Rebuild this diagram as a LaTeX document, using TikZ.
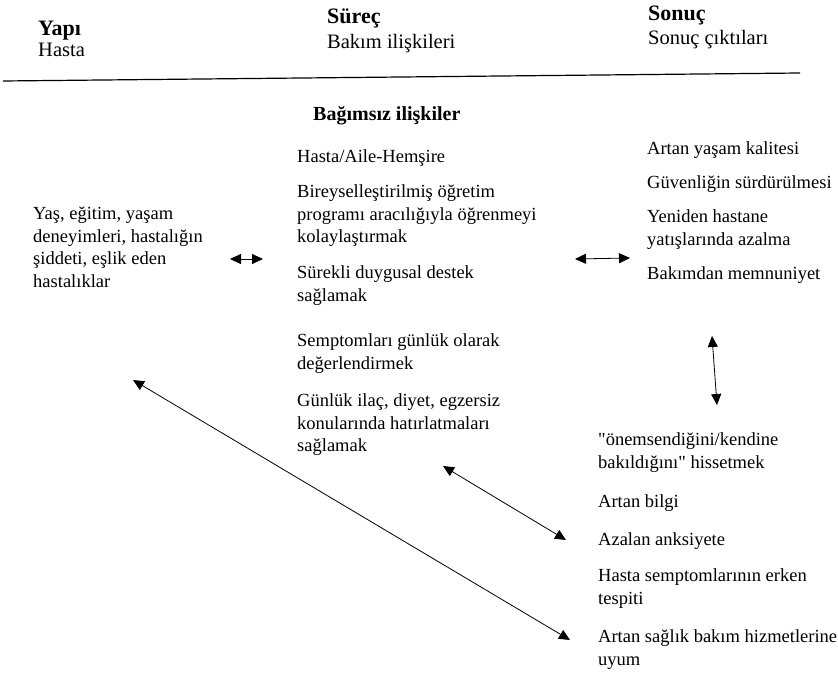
\documentclass[tikz,border=0pt]{standalone}
\usepackage{fontspec}
\setmainfont{Liberation Serif}[Ligatures=TeXOff]
\usetikzlibrary{arrows.meta}
\begin{document}
\begin{tikzpicture}[x=1pt,y=-1pt,
  body/.style={font=\fontsize{18.5}{22.5}\selectfont, inner sep=0pt, anchor=north west, align=left},
  headb/.style={font=\fontsize{22}{26}\selectfont\bfseries, inner sep=0pt, anchor=base west},
  heads/.style={font=\fontsize{20.5}{24}\selectfont, inner sep=0pt, anchor=base west},
  sect/.style={font=\fontsize{20}{24}\selectfont\bfseries, inner sep=0pt, anchor=base west},
  link/.style={line width=0.8pt, {Triangle[length=11pt,width=10pt]}-{Triangle[length=11pt,width=10pt]}}]
\useasboundingbox (0,0) rectangle (838,676);
% headers
\node[headb] (yapi) at (38,36) {Yapı};
\node[heads] (hasta) at (38,57) {Hasta};
\node[headb] (surec) at (327,24) {Süreç};
\node[heads] (bakim) at (327,49) {Bakım ilişkileri};
\node[headb] (sonuc) at (648,21) {Sonuç};
\node[heads] (cikti) at (648,45) {Sonuç çıktıları};
\coordinate (ruleL) at (3,81);
\coordinate (ruleR) at (800,73);
\draw[line width=1.2pt] (ruleL) -- (ruleR);
\node[sect] (bag) at (313,121) {Bağımsız ilişkiler};
% left column
\node[body] (yas) at (33,203.75) {\strut Yaş, eğitim, yaşam\\deneyimleri, hastalığın\\şiddeti, eşlik eden\\hastalıklar};
% center column
\node[body] (c1) at (297,146.75) {\strut Hasta/Aile-Hemşire};
\node[body] (c2) at (297,181.75) {\strut Bireyselleştirilmiş öğretim\\programı aracılığıyla öğrenmeyi\\kolaylaştırmak};
\node[body] (c3) at (297,262.75) {\strut Sürekli duygusal destek\\sağlamak};
\node[body] (c4) at (297,330.75) {\strut Semptomları günlük olarak\\değerlendirmek};
\node[body] (c5) at (297,390.75) {\strut Günlük ilaç, diyet, egzersiz\\konularında hatırlatmaları\\sağlamak};
% right upper
\node[body] (r1) at (647,138.75) {\strut Artan yaşam kalitesi};
\node[body] (r2) at (647,172.75) {\strut Güvenliğin sürdürülmesi};
\node[body] (r3) at (647,206.75) {\strut Yeniden hastane\\yatışlarında azalma};
\node[body] (r4) at (647,263.75) {\strut Bakımdan memnuniyet};
% right lower
\node[body] (s1) at (598,429.75) {\strut "önemsendiğini/kendine\\bakıldığını" hissetmek};
\node[body] (s2) at (598,491.75) {\strut Artan bilgi};
\node[body] (s3) at (598,529.75) {\strut Azalan anksiyete};
\node[body] (s4) at (598,565.75) {\strut Hasta semptomlarının erken\\tespiti};
\node[body] (s5) at (598,626.75) {\strut Artan sağlık bakım hizmetlerine\\uyum};
% connector ends
\coordinate (a1s) at (230,259);
\coordinate (a1e) at (263,259);
\coordinate (a2s) at (575,259);
\coordinate (a2e) at (630,258);
\coordinate (a3s) at (712,336);
\coordinate (a3e) at (717,405);
\coordinate (a4s) at (443,466);
\coordinate (a4e) at (566,540);
\coordinate (a5s) at (133,380);
\coordinate (a5e) at (570,640);
\draw[link] (a1s) -- (a1e);
\draw[link] (a2s) -- (a2e);
\draw[link] (a3s) -- (a3e);
\draw[link] (a4s) -- (a4e);
\draw[link] (a5s) -- (a5e);
\end{tikzpicture}
\end{document}
